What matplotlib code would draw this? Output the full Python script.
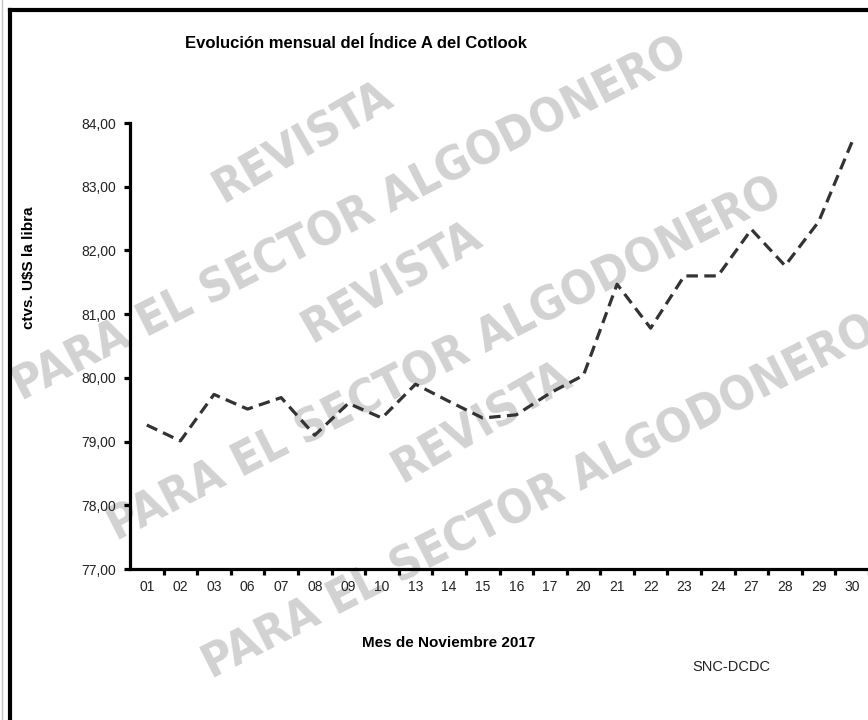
import matplotlib
matplotlib.use("Agg")
import matplotlib.pyplot as plt
from matplotlib.lines import Line2D
from matplotlib.ticker import FixedLocator, FuncFormatter
from matplotlib import font_manager
from matplotlib.font_manager import FontProperties

# ---- data ----
days = ["01", "02", "03", "06", "07", "08", "09", "10", "13", "14", "15",
        "16", "17", "20", "21", "22", "23", "24", "27", "28", "29", "30"]
values = [79.26, 79.01, 79.74, 79.51, 79.69, 79.10, 79.60, 79.37, 79.90, 79.63, 79.37,
          79.42, 79.76, 80.04, 81.47, 80.78, 81.60, 81.60, 82.33, 81.76, 82.45, 83.71]
y_ticks = [77, 78, 79, 80, 81, 82, 83, 84]

title = "Evolución mensual del Índice A del Cotlook"
xlabel = "Mes de Noviembre 2017"
ylabel = "ctvs. U$S la libra"
source = "SNC-DCDC"
wm_short = "REVISTA"
wm_long = "PARA EL SECTOR ALGODONERO"

W, H = 868, 720
plt.rcParams['font.family'] = ['Liberation Sans', 'DejaVu Sans']
fig = plt.figure(figsize=(W / 100, H / 100), dpi=100)
fig.patch.set_facecolor('white')

def fx(px):
    return px / W

def fy(py):
    return 1 - py / H

# watermark font: prefer a condensed / narrow bold face if one is installed
wm_fp = None
for f in font_manager.fontManager.ttflist:
    fn = f.fname.lower()
    if ('condensed' in fn or 'narrow' in fn) and 'bold' in fn and 'oblique' not in fn \
            and 'italic' not in fn and 'mono' not in fn and 'serif' not in fn:
        wm_fp = FontProperties(fname=f.fname)
        break
if wm_fp is not None:
    wm_size = 34
else:
    wm_fp = FontProperties(family='Liberation Sans', weight='bold')
    wm_size = 33
wm_fp.set_size(wm_size)

wm_color = '#d2d2d2'
short_centers = [(303, 143), (392, 283), (482, 423)]
long_centers = [(350, 220), (445, 360), (540, 498)]
for (x, y) in short_centers:
    fig.text(fx(x), fy(y), wm_short, fontproperties=wm_fp, color=wm_color,
             rotation=30, ha='center', va='center', rotation_mode='anchor', zorder=0)
for (x, y) in long_centers:
    fig.text(fx(x), fy(y), wm_long, fontproperties=wm_fp, color=wm_color,
             rotation=27, ha='center', va='center', rotation_mode='anchor', zorder=0)

# axes
left, right = 130, 869
top, bottom = 123, 569
ax = fig.add_axes([fx(left), fy(bottom), (right - left) / W, (bottom - top) / H])
ax.set_zorder(2)
ax.patch.set_alpha(0)

x = list(range(len(days)))
ax.plot(x, values, color='#333333', lw=2.3, linestyle=(0, (3.6, 2.0)),
        dash_capstyle='butt', clip_on=False)

ax.set_xlim(-0.5, len(days) - 0.5)
ax.set_ylim(77, 84)
ax.set_yticks(y_ticks)
ax.yaxis.set_major_formatter(FuncFormatter(lambda v, p: f"{v:.2f}".replace('.', ',')))
ax.set_xticks(x)
ax.set_xticklabels(days)
ax.xaxis.set_minor_locator(FixedLocator([i + 0.5 for i in range(len(days))]))

for s in ['top', 'right']:
    ax.spines[s].set_visible(False)
for s in ['left', 'bottom']:
    ax.spines[s].set_linewidth(2.3)
    ax.spines[s].set_color('black')

ax.tick_params(axis='x', which='major', length=0, pad=8, labelsize=10, colors='#222222')
ax.tick_params(axis='x', which='minor', length=4, width=2.3, direction='out', color='black')
ax.tick_params(axis='y', which='major', length=4, width=2.3, direction='out', pad=6,
               labelsize=10, colors='black', labelcolor='#222222')

# texts
fig.text(fx(356), fy(43), title, fontsize=12, fontweight='bold', ha='center', va='center')
fig.text(fx(29), fy(268), ylabel, fontsize=11, fontweight='bold', rotation=90,
         ha='center', va='center')
fig.text(fx(449), fy(643), xlabel, fontsize=11, fontweight='bold', ha='center', va='center')
fig.text(fx(731), fy(667), source, fontsize=10.5, ha='center', va='center', color='#222222')

# frame
fig.add_artist(Line2D([fx(2), fx(2)], [0, 1], color='#c4c4c4', lw=1))
fig.add_artist(Line2D([fx(10), fx(10)], [0, fy(10)], color='black', lw=3, solid_capstyle='projecting'))
fig.add_artist(Line2D([fx(10), 1.0], [fy(10), fy(10)], color='black', lw=3, solid_capstyle='projecting'))

fig.savefig("out.png", dpi=100)
